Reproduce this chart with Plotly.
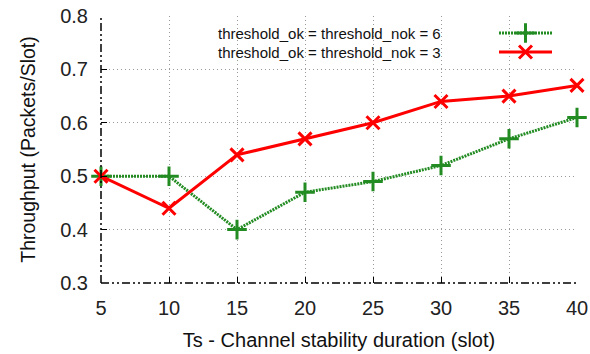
import plotly.graph_objects as go

ts = [5, 10, 15, 20, 25, 30, 35, 40]
thr6 = [0.5, 0.5, 0.4, 0.47, 0.49, 0.52, 0.57, 0.61]
thr3 = [0.5, 0.44, 0.54, 0.57, 0.6, 0.64, 0.65, 0.67]
names = ["threshold_ok = threshold_nok = 6", "threshold_ok = threshold_nok = 3"]
yticks = [0.3, 0.4, 0.5, 0.6, 0.7, 0.8]

GREEN = "#228b22"
RED = "#ff0000"
FONT = "Liberation Sans, Arial, sans-serif"

fig = go.Figure()
fig.add_trace(go.Scatter(
    x=ts, y=thr6, mode="lines+markers", name=names[0], showlegend=False,
    line=dict(color=GREEN, width=3, dash="2px,1px"),
    marker=dict(symbol="cross-thin", size=14, color=GREEN, line=dict(color=GREEN, width=3)),
    cliponaxis=False))
fig.add_trace(go.Scatter(
    x=ts, y=thr3, mode="lines+markers", name=names[1], showlegend=False,
    line=dict(color=RED, width=3),
    marker=dict(symbol="x-thin", size=13, color=RED, line=dict(color=RED, width=3)),
    cliponaxis=False))

# legend samples on a hidden overlay axis measured in pixels of the plot area
leg_x = [398, 451]
leg_y = [17, 36]
styles = [
    dict(line=dict(color=GREEN, width=3, dash="2px,1px"),
         marker=dict(symbol="cross-thin", size=14, color=GREEN, line=dict(color=GREEN, width=3))),
    dict(line=dict(color=RED, width=3),
         marker=dict(symbol="x-thin", size=13, color=RED, line=dict(color=RED, width=3))),
]
for i in range(2):
    fig.add_trace(go.Scatter(x=leg_x, y=[leg_y[i]] * 2, mode="lines", xaxis="x2", yaxis="y2",
                             showlegend=False, hoverinfo="skip", line=styles[i]["line"]))
    fig.add_trace(go.Scatter(x=[sum(leg_x) / 2], y=[leg_y[i]], mode="markers", xaxis="x2", yaxis="y2",
                             showlegend=False, hoverinfo="skip", marker=styles[i]["marker"]))
    fig.add_annotation(x=342, y=leg_y[i], xref="x2", yref="y2", text=names[i], showarrow=False,
                       xanchor="right", yanchor="middle", font=dict(family=FONT, size=15, color="#111"))

grid = dict(showgrid=True, gridcolor="#9a9a9a", griddash="1px,3px", gridwidth=1)
fig.update_layout(
    width=590, height=354,
    margin=dict(l=101, r=13, t=16, b=71),
    paper_bgcolor="white", plot_bgcolor="white",
    font=dict(family=FONT, size=20, color="#222"),
    xaxis=dict(range=[5, 40], tickvals=ts, ticks="inside", ticklen=6, tickcolor="black",
               showline=False, zeroline=False, automargin=False, ticklabelstandoff=11,
               tickfont=dict(size=20),
               title=dict(text="Ts - Channel stability duration (slot)", standoff=14,
                          font=dict(size=20, color="#111")), **grid),
    yaxis=dict(range=[0.3, 0.8], tickvals=yticks, tickformat=".1f", ticks="inside", ticklen=6,
               tickcolor="black", showline=False, zeroline=False, automargin=False, ticklabelstandoff=12,
               tickfont=dict(size=20),
               title=dict(text="Throughput (Packets/Slot)", standoff=19,
                          font=dict(size=19.5, color="#111")), **grid),
    xaxis2=dict(range=[0, 476], overlaying="x", visible=False, fixedrange=True),
    yaxis2=dict(range=[267, 0], overlaying="y", visible=False, fixedrange=True),
    showlegend=False,
)

border = "8px,3px,2px,3px,2px,3px"
fig.add_shape(type="line", xref="x domain", yref="y domain", x0=0, x1=0, y0=0, y1=1,
              line=dict(color="black", width=1.5, dash=border))
fig.add_shape(type="line", xref="x domain", yref="y domain", x0=0, x1=1, y0=0, y1=0,
              line=dict(color="black", width=1.5, dash=border))

fig.write_html("out.html", config={"displayModeBar": False},
               post_script="document.body.style.margin='0';document.body.style.overflow='hidden';")
